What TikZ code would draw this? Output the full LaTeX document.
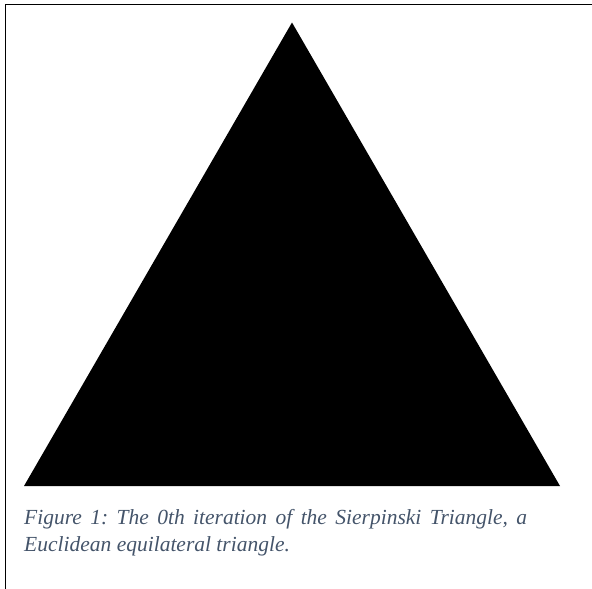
\documentclass[tikz,border=0pt]{standalone}
\usepackage{fontspec}
\setmainfont{Liberation Serif}
\frenchspacing
\definecolor{captiongray}{HTML}{44546A}
\tikzset{
  frameline/.style={line width=1pt, black},
  captiontext/.style={anchor=base west, inner sep=0pt, text=captiongray, font=\fontsize{21.5}{27}\selectfont\itshape}
}
\begin{document}
\begin{tikzpicture}[x=1pt,y=-1pt]
\useasboundingbox (0,0) rectangle (592,589);
\coordinate (fl) at (5,589);
\coordinate (fc) at (5,4);
\coordinate (fr) at (592,4);
\draw[frameline] (fl) -- (fc) -- (fr);
\coordinate (A) at (292,22.5);
\coordinate (B) at (24,486);
\coordinate (C) at (560,486);
\fill[black] (A) -- (B) -- (C) -- cycle;
\node[captiontext] (cap1) at (24,524) {\makebox[503pt][s]{Figure 1: The 0th iteration of the Sierpinski Triangle, a}};
\node[captiontext] (cap2) at (24,551) {Euclidean equilateral triangle.};
\end{tikzpicture}
\end{document}
